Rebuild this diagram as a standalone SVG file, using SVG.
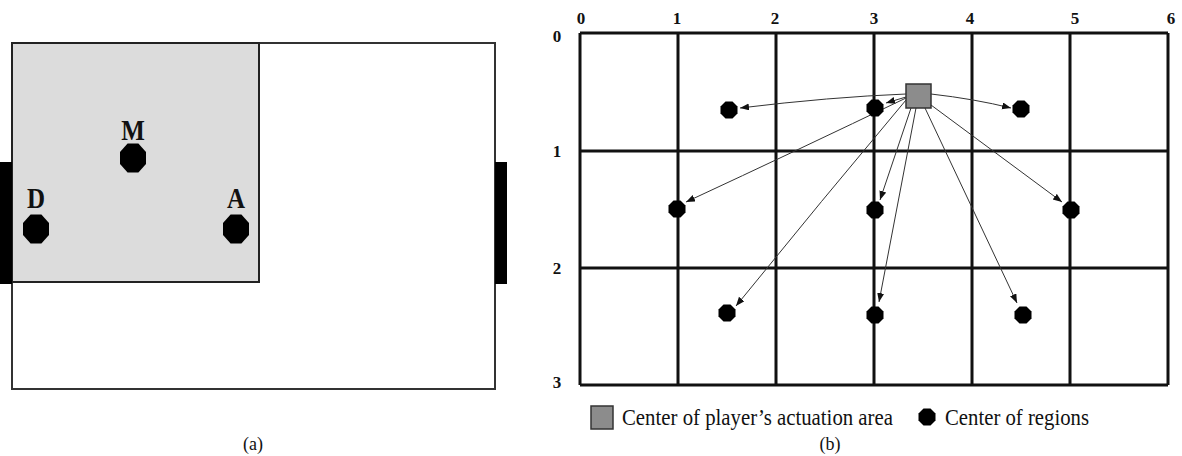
<svg xmlns="http://www.w3.org/2000/svg" width="1182" height="456" viewBox="0 0 1182 456">
<style>
.field{fill:#fff;stroke:#333;stroke-width:2}
.zone{fill:#dcdcdc;stroke:#222;stroke-width:2}
.goal{fill:#000}
.dot{fill:#000}
.lbl{font-family:"Liberation Serif",serif;font-weight:bold;fill:#111}
.grid{stroke:#111;stroke-width:3;fill:none}
.axis{font-family:"Liberation Serif",serif;font-weight:bold;font-size:17px;fill:#111;text-anchor:middle}
.conn{stroke:#333;stroke-width:1;fill:none;marker-end:url(#ah)}
.legend{font-family:"Liberation Serif",serif;font-size:23px;fill:#111}
.cap{font-family:"Liberation Serif",serif;font-size:18px;fill:#111;text-anchor:middle}
.sq{fill:#8c8c8c;stroke:#333;stroke-width:1.5}
</style>
<defs>
<marker id="ah" markerUnits="userSpaceOnUse" markerWidth="10" markerHeight="8" refX="9" refY="3.5" orient="auto">
<path d="M0,0 L9,3.5 L0,7 z" fill="#111"/>
</marker>
<path id="octL" d="M-5.4,-14.5 L5.4,-14.5 L13,-6 L13,6 L5.4,14.5 L-5.4,14.5 L-13,6 L-13,-6 Z"/>
<path id="octS" d="M-3.5,-8.5 L3.5,-8.5 L8.5,-3.5 L8.5,3.5 L3.5,8.5 L-3.5,8.5 L-8.5,3.5 L-8.5,-3.5 Z"/>
</defs>
<rect width="1182" height="456" fill="#fff"/>

<!-- Panel (a) -->
<g id="field">
<rect class="field" x="12" y="43" width="483" height="346"/>
<rect class="zone" x="12" y="43" width="247" height="239"/>
<rect class="goal" x="0" y="162" width="12" height="122"/>
<rect class="goal" x="495" y="162" width="12" height="122"/>
</g>
<g id="player-M">
<use href="#octL" class="dot" x="133" y="158"/>
<text class="lbl" font-size="25" text-anchor="middle" transform="translate(133,140) scale(1,1.2)">M</text>
</g>
<g id="player-D">
<use href="#octL" class="dot" x="36" y="229"/>
<text class="lbl" font-size="25" text-anchor="middle" transform="translate(36,208) scale(1,1.2)">D</text>
</g>
<g id="player-A">
<use href="#octL" class="dot" x="236" y="229"/>
<text class="lbl" font-size="25" text-anchor="middle" transform="translate(236,208) scale(1,1.2)">A</text>
</g>
<text class="cap" x="253" y="450">(a)</text>

<!-- Panel (b) -->
<g id="grid">
<path class="grid" d="M580,33V385M678,33V385M776,33V385M874,33V385M972,33V385M1070,33V385M1168,33V385M580,33H1168M580,151H1168M580,268H1168M580,385H1168"/>
<text class="axis" x="581" y="24">0</text>
<text class="axis" x="677" y="24">1</text>
<text class="axis" x="775" y="24">2</text>
<text class="axis" x="874" y="24">3</text>
<text class="axis" x="970" y="24">4</text>
<text class="axis" x="1075" y="24">5</text>
<text class="axis" x="1171" y="24">6</text>
<text class="axis" x="557" y="42">0</text>
<text class="axis" x="557" y="157">1</text>
<text class="axis" x="557" y="274">2</text>
<text class="axis" x="557" y="388">3</text>
</g>

<g id="connectors">
<path class="conn" d="M906,94 Q830,97 740,108"/>
<path class="conn" d="M906,97 L886,103"/>
<path class="conn" d="M931,94 Q975,99 1011,108"/>
<path class="conn" d="M906,98 Q800,149 686,202"/>
<path class="conn" d="M906,100 Q822,200 736,306"/>
<path class="conn" d="M911,108 L880,200"/>
<path class="conn" d="M916,108 L879,302"/>
<path class="conn" d="M925,108 L1017,303"/>
<path class="conn" d="M931,105 L1062,202"/>
</g>

<g id="actuation-center"><rect class="sq" x="906" y="84" width="25" height="24"/></g>
<g id="region-r0c0"><use href="#octS" class="dot" x="729" y="110"/></g>
<g id="region-r0c1"><use href="#octS" class="dot" x="875" y="108"/></g>
<g id="region-r0c2"><use href="#octS" class="dot" x="1021" y="109"/></g>
<g id="region-r1c0"><use href="#octS" class="dot" x="677" y="209"/></g>
<g id="region-r1c1"><use href="#octS" class="dot" x="875" y="210"/></g>
<g id="region-r1c2"><use href="#octS" class="dot" x="1071" y="210"/></g>
<g id="region-r2c0"><use href="#octS" class="dot" x="727" y="313"/></g>
<g id="region-r2c1"><use href="#octS" class="dot" x="875" y="315"/></g>
<g id="region-r2c2"><use href="#octS" class="dot" x="1023" y="315"/></g>

<g id="legend">
<rect class="sq" x="591" y="406" width="22" height="23"/>
<text class="legend" x="622" y="425" textLength="271" lengthAdjust="spacingAndGlyphs">Center of player’s actuation area</text>
<use href="#octS" class="dot" x="927" y="417"/>
<text class="legend" x="945" y="425" textLength="144" lengthAdjust="spacingAndGlyphs">Center of regions</text>
</g>
<text class="cap" x="830" y="450">(b)</text>
</svg>
